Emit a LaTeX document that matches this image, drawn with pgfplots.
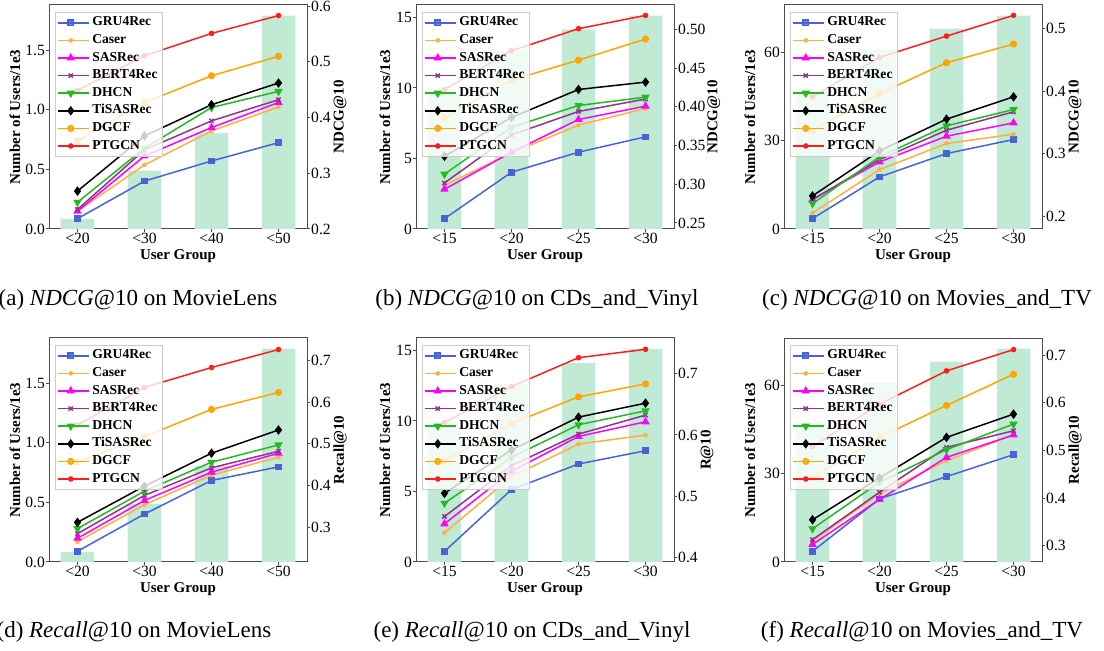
\documentclass[border=0pt]{standalone}
\usepackage{fontspec}
\setmainfont{Liberation Serif}
\usepackage{pgfplots}
\pgfplotsset{compat=1.18}
\usepackage{pgfplotstable}

\definecolor{barc}{RGB}{193,234,213}
\definecolor{cgru}{RGB}{70,100,215}
\definecolor{ccaser}{RGB}{255,176,64}
\definecolor{csas}{RGB}{255,0,255}
\definecolor{cbert}{RGB}{145,50,145}
\definecolor{cdhcn}{RGB}{35,185,35}
\definecolor{ctisas}{RGB}{0,0,0}
\definecolor{cdgcf}{RGB}{255,165,0}
\definecolor{cptgcn}{RGB}{255,30,30}

\pgfplotstableread{
x bar GRU Caser SAS BERT DHCN TiSAS DGCF PTGCN
0 0.084 0.2186 0.232 0.232 0.235 0.248 0.268 0.358 0.449
1 0.49 0.286 0.315 0.331 0.342 0.345 0.367 0.427 0.511
2 0.806 0.322 0.376 0.382 0.394 0.418 0.423 0.475 0.551
3 1.788 0.355 0.419 0.427 0.432 0.447 0.462 0.510 0.583
}\tabA
\pgfplotstableread{
x bar GRU Caser SAS BERT DHCN TiSAS DGCF PTGCN
0 9.6 0.2556 0.2987 0.2935 0.3017 0.313 0.3362 0.3862 0.4224
1 12.63 0.3155 0.3405 0.3414 0.3638 0.3737 0.3862 0.4345 0.4724
2 14.15 0.3414 0.3763 0.3836 0.394 0.4017 0.4224 0.4603 0.5009
3 15.12 0.3612 0.3978 0.4009 0.41 0.4125 0.4319 0.4875 0.5181
}\tabB
\pgfplotstableread{
x bar GRU Caser SAS BERT DHCN TiSAS DGCF PTGCN
0 47 0.1963 0.2053 0.2272 0.2265 0.2203 0.2326 0.3367 0.3911
1 61.1 0.263 0.2747 0.287 0.2908 0.295 0.3046 0.3965 0.4541
2 68.2 0.3004 0.3164 0.3281 0.3377 0.3447 0.3554 0.4456 0.4883
3 72.6 0.3228 0.3313 0.3495 0.3671 0.3708 0.3911 0.4755 0.5214
}\tabC
\pgfplotstableread{
x bar GRU Caser SAS BERT DHCN TiSAS DGCF PTGCN
0 0.084 0.2437 0.2667 0.2746 0.2857 0.2976 0.3127 0.4571 0.5452
1 0.49 0.3325 0.3548 0.3651 0.377 0.3873 0.3992 0.5175 0.6349
2 0.806 0.4127 0.4254 0.4325 0.4429 0.4563 0.4778 0.5825 0.6825
3 1.788 0.4452 0.4683 0.4778 0.4825 0.4976 0.5333 0.623 0.7254
}\tabD
\pgfplotstableread{
x bar GRU Caser SAS BERT DHCN TiSAS DGCF PTGCN
0 9.6 0.4103 0.4406 0.4552 0.4671 0.4888 0.505 0.5581 0.6204
1 12.6 0.511 0.5321 0.5408 0.55 0.5635 0.5754 0.6187 0.6788
2 14.1 0.5527 0.5852 0.5976 0.6014 0.6166 0.629 0.662 0.7259
3 15.1 0.5743 0.5998 0.6214 0.6323 0.6393 0.6518 0.6832 0.7395
}\tabE
\pgfplotstableread{
x bar GRU Caser SAS BERT DHCN TiSAS DGCF PTGCN
0 47 0.2881 0.3098 0.3028 0.3126 0.3356 0.3545 0.4438 0.508
1 61.1 0.3984 0.4089 0.397 0.4124 0.4333 0.4424 0.5276 0.5974
2 68.2 0.4452 0.4787 0.4857 0.5066 0.5017 0.5276 0.5946 0.6672
3 72.6 0.4913 0.5332 0.5325 0.5415 0.5555 0.5764 0.6602 0.7119
}\tabF

\newcommand{\labfont}{\fontsize{7.5}{9}\selectfont\bfseries}
\pgfplotsset{
  common/.style={
    scale only axis, width=129pt, height=112pt, anchor=south west,
    xmin=-0.425, xmax=3.425, xtick={0,1,2,3},
    tick align=outside, major tick length=1.3pt,
    axis line style={black!70, line width=0.5pt},
    tick style={black!70, line width=0.5pt},
    tick label style={font=\fontsize{7.8}{9}\selectfont, inner sep=0.6pt},
    /pgf/number format/assume math mode=true,
    clip=false,
  },
  ln/.style={line width=0.75pt, mark options={solid}},
  gru/.style={ln, color=cgru, mark=square*, mark size=1.3pt},
  caser/.style={ln, color=ccaser, mark=star, mark size=1.2pt},
  sas/.style={ln, color=csas, mark=triangle*, mark size=1.7pt},
  bert/.style={ln, color=cbert, mark=x, mark size=1.5pt},
  dhcn/.style={ln, color=cdhcn, mark=triangle*, mark size=1.7pt, mark options={rotate=180}},
  tisas/.style={ln, color=ctisas, mark=diamond*, mark size=1.8pt},
  dgcf/.style={ln, color=cdgcf, mark=*, mark size=1.4pt},
  ptgcn/.style={ln, color=cptgcn, mark=*, mark size=1.0pt},
}

% #1 at, #2 table, #3 xticklabels, #4 left opts, #5 right opts, #6 right label, #7 left label x, #8 right label x
\newcommand{\panel}[8]{%
\begin{axis}[common, at={#1}, xticklabels={#3},
  ymin=0, xtick pos=bottom, ytick pos=left,
  ylabel={Number of Users/1e3}, xlabel={User Group},
  every axis y label/.style={at={(axis description cs:#7,0.5)}, rotate=90, anchor=center, font=\labfont},
  every axis x label/.style={at={(axis description cs:0.5,-0.12)}, anchor=center, font=\labfont},
  #4]
\addplot[ybar, bar width=0.5, fill=barc, draw=none] table[x=x,y=bar]{#2};
\end{axis}
\begin{axis}[common, at={#1}, axis x line=none, axis y line*=right,
  ylabel={#6},
  every axis y label/.style={at={(axis description cs:#8,0.5)}, rotate=90, anchor=center, font=\labfont},
  legend cell align=left,
  legend image code/.code={\path (0pt,0pt) -- (15.5pt,0pt); \draw[mark repeat=2,mark phase=2,##1] plot coordinates {(0pt,0pt) (6.5pt,0pt) (13pt,0pt)};},
  legend style={at={(0,1)}, anchor=north west, xshift=3pt, yshift=-3.5pt,
    draw=black!20, fill=white, fill opacity=0.8, text opacity=1, draw opacity=1,
    font=\fontsize{6.8}{8}\selectfont\bfseries, inner sep=0.8pt, row sep=0pt,
    nodes={inner sep=1.4pt, text height=4.6pt, text depth=1.4pt}},
  #5]
\addplot[gru] table[x=x,y=GRU]{#2};
\addplot[caser] table[x=x,y=Caser]{#2};
\addplot[sas] table[x=x,y=SAS]{#2};
\addplot[bert] table[x=x,y=BERT]{#2};
\addplot[dhcn] table[x=x,y=DHCN]{#2};
\addplot[tisas] table[x=x,y=TiSAS]{#2};
\addplot[dgcf] table[x=x,y=DGCF]{#2};
\addplot[ptgcn] table[x=x,y=PTGCN]{#2};
\legend{GRU4Rec,Caser,SASRec,BERT4Rec,DHCN,TiSASRec,DGCF,PTGCN}
\end{axis}}

\begin{document}
\begin{tikzpicture}
\useasboundingbox (0,0) rectangle (552pt,-325.5pt);
% row 1
\panel{(24.5pt,-114.5pt)}{\tabA}{{<}20,{<}30,{<}40,{<}50}
  {ymax=1.878, ytick={0,0.5,1,1.5}, yticklabel style={/pgf/number format/.cd, fixed, fixed zerofill, precision=1}}
  {ymin=0.2, ymax=0.602, ytick={0.2,0.3,0.4,0.5,0.6}, yticklabel style={/pgf/number format/.cd, fixed, fixed zerofill, precision=1}}
  {NDCG@10}{-0.132}{1.128}
\panel{(208pt,-114.5pt)}{\tabB}{{<}15,{<}20,{<}25,{<}30}
  {ymax=15.875, ytick={0,5,10,15}}
  {ymin=0.2422, ymax=0.5315, ytick={0.25,0.3,0.35,0.4,0.45,0.5}, yticklabel style={/pgf/number format/.cd, fixed, fixed zerofill, precision=2}}
  {NDCG@10}{-0.12}{1.154}
\panel{(392pt,-114.5pt)}{\tabC}{{<}15,{<}20,{<}25,{<}30}
  {ymax=76.25, ytick={0,30,60}}
  {ymin=0.1797, ymax=0.538, ytick={0.2,0.3,0.4,0.5}, yticklabel style={/pgf/number format/.cd, fixed, fixed zerofill, precision=1}}
  {NDCG@10}{-0.132}{1.128}
% row 2
\panel{(24.5pt,-281pt)}{\tabD}{{<}20,{<}30,{<}40,{<}50}
  {ymax=1.878, ytick={0,0.5,1,1.5}, yticklabel style={/pgf/number format/.cd, fixed, fixed zerofill, precision=1}}
  {ymin=0.218, ymax=0.753, ytick={0.3,0.4,0.5,0.6,0.7}, yticklabel style={/pgf/number format/.cd, fixed, fixed zerofill, precision=1}}
  {Recall@10}{-0.132}{1.128}
\panel{(208pt,-281pt)}{\tabE}{{<}15,{<}20,{<}25,{<}30}
  {ymax=15.875, ytick={0,5,10,15}}
  {ymin=0.393, ymax=0.758, ytick={0.4,0.5,0.6,0.7}, yticklabel style={/pgf/number format/.cd, fixed, fixed zerofill, precision=1}}
  {R@10}{-0.12}{1.128}
\panel{(392pt,-281pt)}{\tabF}{{<}15,{<}20,{<}25,{<}30}
  {ymax=76.25, ytick={0,30,60}}
  {ymin=0.2658, ymax=0.7363, ytick={0.3,0.4,0.5,0.6,0.7}, yticklabel style={/pgf/number format/.cd, fixed, fixed zerofill, precision=1}}
  {Recall@10}{-0.132}{1.128}
% captions
\begin{scope}[every node/.style={font=\fontsize{11.5}{13}\selectfont, inner sep=0pt, anchor=center}]
\node at (69pt,-150pt) {(a) \textit{NDCG}@10 on MovieLens};
\node at (268.5pt,-150pt) {(b) \textit{NDCG}@10 on CDs\_and\_Vinyl};
\node at (463.5pt,-150pt) {(c) \textit{NDCG}@10 on Movies\_and\_TV};
\node at (67pt,-316pt) {(d) \textit{Recall}@10 on MovieLens};
\node at (266pt,-316pt) {(e) \textit{Recall}@10 on CDs\_and\_Vinyl};
\node at (461pt,-316pt) {(f) \textit{Recall}@10 on Movies\_and\_TV};
\end{scope}
\end{tikzpicture}
\end{document}
